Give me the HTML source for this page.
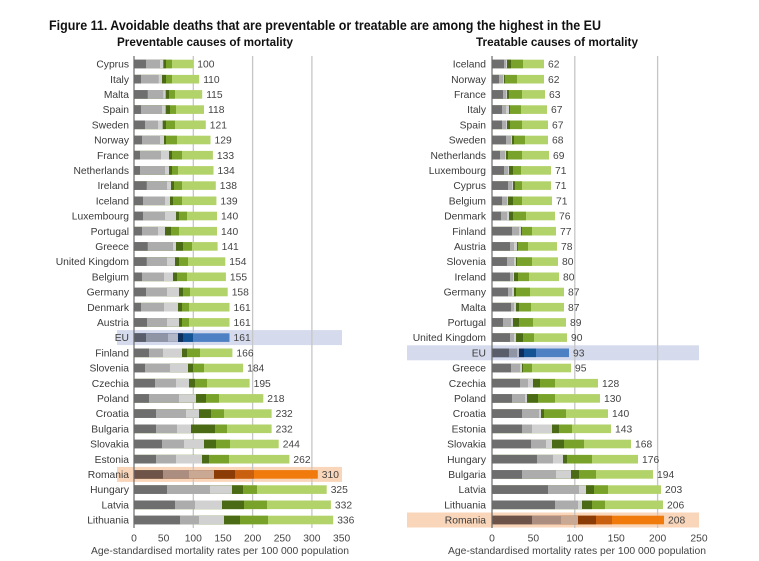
<!DOCTYPE html>
<html><head><meta charset="utf-8">
<style>
html,body{margin:0;padding:0;background:#fff;}
svg{display:block;font-family:"Liberation Sans",Arial,sans-serif;}
.lb{font-size:10.3px;fill:#3a3a3a;text-anchor:end;}
.v{font-size:10.3px;fill:#444;}
.tk{font-size:10.3px;fill:#444;text-anchor:middle;}
.a{fill:#6e6e6e}.b{fill:#acacac}.c{fill:#d1d1d1}.d{fill:#4b6a15}.e{fill:#78a22a}.f{fill:#b2d26a}
.ea{fill:#5a5e6b}.eb{fill:#9095a5}.ec{fill:#b2b7c8}.ed{fill:#0e2e5c}.ee{fill:#145495}.ef{fill:#4e80c4}
.ra{fill:#6e5448}.rb{fill:#ab8e80}.rc{fill:#c9a894}.rd{fill:#8a3b06}.re{fill:#c9600f}.rf{fill:#f07a0c}
</style></head><body>
<svg width="759" height="561" viewBox="0 0 759 561" xmlns="http://www.w3.org/2000/svg">
<rect width="759" height="561" fill="#fff"/>
<text x="49" y="30" font-size="13.5" font-weight="bold" fill="#111" textLength="552" lengthAdjust="spacingAndGlyphs">Figure 11. Avoidable deaths that are preventable or treatable are among the highest in the EU</text>
<text x="117" y="46" font-size="11.5" font-weight="bold" fill="#111" textLength="176" lengthAdjust="spacingAndGlyphs">Preventable causes of mortality</text>
<text x="476" y="46" font-size="11.5" font-weight="bold" fill="#111" textLength="162" lengthAdjust="spacingAndGlyphs">Treatable causes of mortality</text>

<!-- highlight bands -->
<rect x="117" y="330.1" width="225" height="15" fill="#d5dbec"/>
<rect x="117" y="466.9" width="225" height="15" fill="#f9d6ba"/>
<rect x="407" y="345.3" width="292" height="15" fill="#d5dbec"/>
<rect x="407" y="512.5" width="292" height="15" fill="#f9d6ba"/>

<!-- gridlines -->
<g stroke="#c6c6c6" stroke-width="1.3">
<line x1="193.3" y1="56" x2="193.3" y2="528"/>
<line x1="252.6" y1="56" x2="252.6" y2="528"/>
<line x1="311.9" y1="56" x2="311.9" y2="528"/>
<line x1="574.8" y1="56" x2="574.8" y2="528"/>
<line x1="657.6" y1="56" x2="657.6" y2="528"/>
</g>

<!-- LEFT CHART -->
<g transform="translate(0,64)"><text x="129" y="3.6" class="lb">Cyprus</text><g transform="translate(134,0)"><rect class="f" y="-4.3" height="8.6" width="59.3"/><rect class="e" y="-4.3" height="8.6" width="38"/><rect class="d" y="-4.3" height="8.6" width="32"/><rect class="c" y="-4.3" height="8.6" width="29.3"/><rect class="b" y="-4.3" height="8.6" width="26"/><rect class="a" y="-4.3" height="8.6" width="12"/></g><text x="197.3" y="3.6" class="v">100</text></g>
<g transform="translate(0,79.2)"><text x="129" y="3.6" class="lb">Italy</text><g transform="translate(134,0)"><rect class="f" y="-4.3" height="8.6" width="65.2"/><rect class="e" y="-4.3" height="8.6" width="38"/><rect class="d" y="-4.3" height="8.6" width="32"/><rect class="c" y="-4.3" height="8.6" width="28"/><rect class="b" y="-4.3" height="8.6" width="24.7"/><rect class="a" y="-4.3" height="8.6" width="7"/></g><text x="203.2" y="3.6" class="v">110</text></g>
<g transform="translate(0,94.4)"><text x="129" y="3.6" class="lb">Malta</text><g transform="translate(134,0)"><rect class="f" y="-4.3" height="8.6" width="68.2"/><rect class="e" y="-4.3" height="8.6" width="41"/><rect class="d" y="-4.3" height="8.6" width="35"/><rect class="c" y="-4.3" height="8.6" width="31.7"/><rect class="b" y="-4.3" height="8.6" width="29.3"/><rect class="a" y="-4.3" height="8.6" width="13.7"/></g><text x="206.2" y="3.6" class="v">115</text></g>
<g transform="translate(0,109.6)"><text x="129" y="3.6" class="lb">Spain</text><g transform="translate(134,0)"><rect class="f" y="-4.3" height="8.6" width="70"/><rect class="e" y="-4.3" height="8.6" width="42"/><rect class="d" y="-4.3" height="8.6" width="36"/><rect class="c" y="-4.3" height="8.6" width="31.7"/><rect class="b" y="-4.3" height="8.6" width="28"/><rect class="a" y="-4.3" height="8.6" width="7"/></g><text x="208" y="3.6" class="v">118</text></g>
<g transform="translate(0,124.8)"><text x="129" y="3.6" class="lb">Sweden</text><g transform="translate(134,0)"><rect class="f" y="-4.3" height="8.6" width="71.8"/><rect class="e" y="-4.3" height="8.6" width="41"/><rect class="d" y="-4.3" height="8.6" width="32"/><rect class="c" y="-4.3" height="8.6" width="28.7"/><rect class="b" y="-4.3" height="8.6" width="24"/><rect class="a" y="-4.3" height="8.6" width="11"/></g><text x="209.8" y="3.6" class="v">121</text></g>
<g transform="translate(0,140)"><text x="129" y="3.6" class="lb">Norway</text><g transform="translate(134,0)"><rect class="f" y="-4.3" height="8.6" width="76.5"/><rect class="e" y="-4.3" height="8.6" width="43"/><rect class="d" y="-4.3" height="8.6" width="32"/><rect class="c" y="-4.3" height="8.6" width="30"/><rect class="b" y="-4.3" height="8.6" width="26"/><rect class="a" y="-4.3" height="8.6" width="8"/></g><text x="214.5" y="3.6" class="v">129</text></g>
<g transform="translate(0,155.2)"><text x="129" y="3.6" class="lb">France</text><g transform="translate(134,0)"><rect class="f" y="-4.3" height="8.6" width="78.9"/><rect class="e" y="-4.3" height="8.6" width="48"/><rect class="d" y="-4.3" height="8.6" width="38"/><rect class="c" y="-4.3" height="8.6" width="35"/><rect class="b" y="-4.3" height="8.6" width="27"/><rect class="a" y="-4.3" height="8.6" width="6"/></g><text x="216.9" y="3.6" class="v">133</text></g>
<g transform="translate(0,170.4)"><text x="129" y="3.6" class="lb">Netherlands</text><g transform="translate(134,0)"><rect class="f" y="-4.3" height="8.6" width="79.5"/><rect class="e" y="-4.3" height="8.6" width="44"/><rect class="d" y="-4.3" height="8.6" width="38"/><rect class="c" y="-4.3" height="8.6" width="35"/><rect class="b" y="-4.3" height="8.6" width="31"/><rect class="a" y="-4.3" height="8.6" width="6"/></g><text x="217.5" y="3.6" class="v">134</text></g>
<g transform="translate(0,185.6)"><text x="129" y="3.6" class="lb">Ireland</text><g transform="translate(134,0)"><rect class="f" y="-4.3" height="8.6" width="81.8"/><rect class="e" y="-4.3" height="8.6" width="48"/><rect class="d" y="-4.3" height="8.6" width="40"/><rect class="c" y="-4.3" height="8.6" width="37"/><rect class="b" y="-4.3" height="8.6" width="33"/><rect class="a" y="-4.3" height="8.6" width="12.7"/></g><text x="219.8" y="3.6" class="v">138</text></g>
<g transform="translate(0,200.8)"><text x="129" y="3.6" class="lb">Iceland</text><g transform="translate(134,0)"><rect class="f" y="-4.3" height="8.6" width="82.4"/><rect class="e" y="-4.3" height="8.6" width="48"/><rect class="d" y="-4.3" height="8.6" width="39"/><rect class="c" y="-4.3" height="8.6" width="36"/><rect class="b" y="-4.3" height="8.6" width="31"/><rect class="a" y="-4.3" height="8.6" width="9"/></g><text x="220.4" y="3.6" class="v">139</text></g>
<g transform="translate(0,216)"><text x="129" y="3.6" class="lb">Luxembourg</text><g transform="translate(134,0)"><rect class="f" y="-4.3" height="8.6" width="83"/><rect class="e" y="-4.3" height="8.6" width="53"/><rect class="d" y="-4.3" height="8.6" width="45"/><rect class="c" y="-4.3" height="8.6" width="42"/><rect class="b" y="-4.3" height="8.6" width="31"/><rect class="a" y="-4.3" height="8.6" width="9"/></g><text x="221" y="3.6" class="v">140</text></g>
<g transform="translate(0,231.2)"><text x="129" y="3.6" class="lb">Portugal</text><g transform="translate(134,0)"><rect class="f" y="-4.3" height="8.6" width="83"/><rect class="e" y="-4.3" height="8.6" width="45"/><rect class="d" y="-4.3" height="8.6" width="37"/><rect class="c" y="-4.3" height="8.6" width="31"/><rect class="b" y="-4.3" height="8.6" width="24"/><rect class="a" y="-4.3" height="8.6" width="8"/></g><text x="221" y="3.6" class="v">140</text></g>
<g transform="translate(0,246.4)"><text x="129" y="3.6" class="lb">Greece</text><g transform="translate(134,0)"><rect class="f" y="-4.3" height="8.6" width="83.6"/><rect class="e" y="-4.3" height="8.6" width="58"/><rect class="d" y="-4.3" height="8.6" width="49"/><rect class="c" y="-4.3" height="8.6" width="42"/><rect class="b" y="-4.3" height="8.6" width="39"/><rect class="a" y="-4.3" height="8.6" width="13.7"/></g><text x="221.6" y="3.6" class="v">141</text></g>
<g transform="translate(0,261.6)"><text x="129" y="3.6" class="lb">United Kingdom</text><g transform="translate(134,0)"><rect class="f" y="-4.3" height="8.6" width="91.3"/><rect class="e" y="-4.3" height="8.6" width="54"/><rect class="d" y="-4.3" height="8.6" width="45"/><rect class="c" y="-4.3" height="8.6" width="41"/><rect class="b" y="-4.3" height="8.6" width="33"/><rect class="a" y="-4.3" height="8.6" width="12.7"/></g><text x="229.3" y="3.6" class="v">154</text></g>
<g transform="translate(0,276.8)"><text x="129" y="3.6" class="lb">Belgium</text><g transform="translate(134,0)"><rect class="f" y="-4.3" height="8.6" width="91.9"/><rect class="e" y="-4.3" height="8.6" width="53"/><rect class="d" y="-4.3" height="8.6" width="43"/><rect class="c" y="-4.3" height="8.6" width="39"/><rect class="b" y="-4.3" height="8.6" width="30"/><rect class="a" y="-4.3" height="8.6" width="8"/></g><text x="229.9" y="3.6" class="v">155</text></g>
<g transform="translate(0,292)"><text x="129" y="3.6" class="lb">Germany</text><g transform="translate(134,0)"><rect class="f" y="-4.3" height="8.6" width="93.7"/><rect class="e" y="-4.3" height="8.6" width="56"/><rect class="d" y="-4.3" height="8.6" width="49"/><rect class="c" y="-4.3" height="8.6" width="45"/><rect class="b" y="-4.3" height="8.6" width="33"/><rect class="a" y="-4.3" height="8.6" width="12"/></g><text x="231.7" y="3.6" class="v">158</text></g>
<g transform="translate(0,307.2)"><text x="129" y="3.6" class="lb">Denmark</text><g transform="translate(134,0)"><rect class="f" y="-4.3" height="8.6" width="95.5"/><rect class="e" y="-4.3" height="8.6" width="55"/><rect class="d" y="-4.3" height="8.6" width="48"/><rect class="c" y="-4.3" height="8.6" width="44"/><rect class="b" y="-4.3" height="8.6" width="30"/><rect class="a" y="-4.3" height="8.6" width="7"/></g><text x="233.5" y="3.6" class="v">161</text></g>
<g transform="translate(0,322.4)"><text x="129" y="3.6" class="lb">Austria</text><g transform="translate(134,0)"><rect class="f" y="-4.3" height="8.6" width="95.5"/><rect class="e" y="-4.3" height="8.6" width="55"/><rect class="d" y="-4.3" height="8.6" width="48"/><rect class="c" y="-4.3" height="8.6" width="45"/><rect class="b" y="-4.3" height="8.6" width="33"/><rect class="a" y="-4.3" height="8.6" width="13"/></g><text x="233.5" y="3.6" class="v">161</text></g>
<g transform="translate(0,337.6)"><text x="129" y="3.6" class="lb">EU</text><g transform="translate(134,0)"><rect class="ef" y="-4.3" height="8.6" width="95.5"/><rect class="ee" y="-4.3" height="8.6" width="59"/><rect class="ed" y="-4.3" height="8.6" width="49"/><rect class="ec" y="-4.3" height="8.6" width="44"/><rect class="eb" y="-4.3" height="8.6" width="34"/><rect class="ea" y="-4.3" height="8.6" width="12"/></g><text x="233.5" y="3.6" class="v">161</text></g>
<g transform="translate(0,352.8)"><text x="129" y="3.6" class="lb">Finland</text><g transform="translate(134,0)"><rect class="f" y="-4.3" height="8.6" width="98.4"/><rect class="e" y="-4.3" height="8.6" width="66"/><rect class="d" y="-4.3" height="8.6" width="53"/><rect class="c" y="-4.3" height="8.6" width="48"/><rect class="b" y="-4.3" height="8.6" width="29"/><rect class="a" y="-4.3" height="8.6" width="15"/></g><text x="236.4" y="3.6" class="v">166</text></g>
<g transform="translate(0,368)"><text x="129" y="3.6" class="lb">Slovenia</text><g transform="translate(134,0)"><rect class="f" y="-4.3" height="8.6" width="109.1"/><rect class="e" y="-4.3" height="8.6" width="70"/><rect class="d" y="-4.3" height="8.6" width="59"/><rect class="c" y="-4.3" height="8.6" width="54"/><rect class="b" y="-4.3" height="8.6" width="36"/><rect class="a" y="-4.3" height="8.6" width="11"/></g><text x="247.1" y="3.6" class="v">184</text></g>
<g transform="translate(0,383.2)"><text x="129" y="3.6" class="lb">Czechia</text><g transform="translate(134,0)"><rect class="f" y="-4.3" height="8.6" width="115.6"/><rect class="e" y="-4.3" height="8.6" width="73"/><rect class="d" y="-4.3" height="8.6" width="61"/><rect class="c" y="-4.3" height="8.6" width="55"/><rect class="b" y="-4.3" height="8.6" width="42"/><rect class="a" y="-4.3" height="8.6" width="21"/></g><text x="253.6" y="3.6" class="v">195</text></g>
<g transform="translate(0,398.4)"><text x="129" y="3.6" class="lb">Poland</text><g transform="translate(134,0)"><rect class="f" y="-4.3" height="8.6" width="129.3"/><rect class="e" y="-4.3" height="8.6" width="85"/><rect class="d" y="-4.3" height="8.6" width="72"/><rect class="c" y="-4.3" height="8.6" width="62"/><rect class="b" y="-4.3" height="8.6" width="45"/><rect class="a" y="-4.3" height="8.6" width="15"/></g><text x="267.3" y="3.6" class="v">218</text></g>
<g transform="translate(0,413.6)"><text x="129" y="3.6" class="lb">Croatia</text><g transform="translate(134,0)"><rect class="f" y="-4.3" height="8.6" width="137.6"/><rect class="e" y="-4.3" height="8.6" width="90"/><rect class="d" y="-4.3" height="8.6" width="77"/><rect class="c" y="-4.3" height="8.6" width="65"/><rect class="b" y="-4.3" height="8.6" width="52"/><rect class="a" y="-4.3" height="8.6" width="22"/></g><text x="275.6" y="3.6" class="v">232</text></g>
<g transform="translate(0,428.8)"><text x="129" y="3.6" class="lb">Bulgaria</text><g transform="translate(134,0)"><rect class="f" y="-4.3" height="8.6" width="137.6"/><rect class="e" y="-4.3" height="8.6" width="93"/><rect class="d" y="-4.3" height="8.6" width="81"/><rect class="c" y="-4.3" height="8.6" width="57"/><rect class="b" y="-4.3" height="8.6" width="43"/><rect class="a" y="-4.3" height="8.6" width="22"/></g><text x="275.6" y="3.6" class="v">232</text></g>
<g transform="translate(0,444)"><text x="129" y="3.6" class="lb">Slovakia</text><g transform="translate(134,0)"><rect class="f" y="-4.3" height="8.6" width="144.7"/><rect class="e" y="-4.3" height="8.6" width="96"/><rect class="d" y="-4.3" height="8.6" width="82"/><rect class="c" y="-4.3" height="8.6" width="70"/><rect class="b" y="-4.3" height="8.6" width="50"/><rect class="a" y="-4.3" height="8.6" width="28"/></g><text x="282.7" y="3.6" class="v">244</text></g>
<g transform="translate(0,459.2)"><text x="129" y="3.6" class="lb">Estonia</text><g transform="translate(134,0)"><rect class="f" y="-4.3" height="8.6" width="155.4"/><rect class="e" y="-4.3" height="8.6" width="95"/><rect class="d" y="-4.3" height="8.6" width="75"/><rect class="c" y="-4.3" height="8.6" width="68"/><rect class="b" y="-4.3" height="8.6" width="42"/><rect class="a" y="-4.3" height="8.6" width="22"/></g><text x="293.4" y="3.6" class="v">262</text></g>
<g transform="translate(0,474.4)"><text x="129" y="3.6" class="lb">Romania</text><g transform="translate(134,0)"><rect class="rf" y="-4.3" height="8.6" width="183.8"/><rect class="re" y="-4.3" height="8.6" width="120"/><rect class="rd" y="-4.3" height="8.6" width="101"/><rect class="rc" y="-4.3" height="8.6" width="80"/><rect class="rb" y="-4.3" height="8.6" width="55"/><rect class="ra" y="-4.3" height="8.6" width="29"/></g><text x="321.8" y="3.6" class="v">310</text></g>
<g transform="translate(0,489.6)"><text x="129" y="3.6" class="lb">Hungary</text><g transform="translate(134,0)"><rect class="f" y="-4.3" height="8.6" width="192.7"/><rect class="e" y="-4.3" height="8.6" width="123"/><rect class="d" y="-4.3" height="8.6" width="109"/><rect class="c" y="-4.3" height="8.6" width="98"/><rect class="b" y="-4.3" height="8.6" width="76"/><rect class="a" y="-4.3" height="8.6" width="33"/></g><text x="330.7" y="3.6" class="v">325</text></g>
<g transform="translate(0,504.8)"><text x="129" y="3.6" class="lb">Latvia</text><g transform="translate(134,0)"><rect class="f" y="-4.3" height="8.6" width="196.9"/><rect class="e" y="-4.3" height="8.6" width="133"/><rect class="d" y="-4.3" height="8.6" width="110"/><rect class="c" y="-4.3" height="8.6" width="88"/><rect class="b" y="-4.3" height="8.6" width="61"/><rect class="a" y="-4.3" height="8.6" width="41"/></g><text x="334.9" y="3.6" class="v">332</text></g>
<g transform="translate(0,520)"><text x="129" y="3.6" class="lb">Lithuania</text><g transform="translate(134,0)"><rect class="f" y="-4.3" height="8.6" width="199.2"/><rect class="e" y="-4.3" height="8.6" width="134"/><rect class="d" y="-4.3" height="8.6" width="106"/><rect class="c" y="-4.3" height="8.6" width="90"/><rect class="b" y="-4.3" height="8.6" width="65"/><rect class="a" y="-4.3" height="8.6" width="46"/></g><text x="337.2" y="3.6" class="v">336</text></g>

<!-- RIGHT CHART -->
<g transform="translate(0,64)"><text x="486" y="3.6" class="lb">Iceland</text><g transform="translate(492,0)"><rect class="f" y="-4.3" height="8.6" width="52"/><rect class="e" y="-4.3" height="8.6" width="31"/><rect class="d" y="-4.3" height="8.6" width="19"/><rect class="c" y="-4.3" height="8.6" width="15"/><rect class="b" y="-4.3" height="8.6" width="14"/><rect class="a" y="-4.3" height="8.6" width="12"/></g><text x="548" y="3.6" class="v">62</text></g>
<g transform="translate(0,79.2)"><text x="486" y="3.6" class="lb">Norway</text><g transform="translate(492,0)"><rect class="f" y="-4.3" height="8.6" width="52"/><rect class="e" y="-4.3" height="8.6" width="25"/><rect class="d" y="-4.3" height="8.6" width="13"/><rect class="c" y="-4.3" height="8.6" width="12"/><rect class="b" y="-4.3" height="8.6" width="11"/><rect class="a" y="-4.3" height="8.6" width="7"/></g><text x="548" y="3.6" class="v">62</text></g>
<g transform="translate(0,94.4)"><text x="486" y="3.6" class="lb">France</text><g transform="translate(492,0)"><rect class="f" y="-4.3" height="8.6" width="53"/><rect class="e" y="-4.3" height="8.6" width="30"/><rect class="d" y="-4.3" height="8.6" width="17"/><rect class="c" y="-4.3" height="8.6" width="15"/><rect class="b" y="-4.3" height="8.6" width="14"/><rect class="a" y="-4.3" height="8.6" width="11"/></g><text x="549" y="3.6" class="v">63</text></g>
<g transform="translate(0,109.6)"><text x="486" y="3.6" class="lb">Italy</text><g transform="translate(492,0)"><rect class="f" y="-4.3" height="8.6" width="55"/><rect class="e" y="-4.3" height="8.6" width="29"/><rect class="d" y="-4.3" height="8.6" width="18"/><rect class="c" y="-4.3" height="8.6" width="17"/><rect class="b" y="-4.3" height="8.6" width="14"/><rect class="a" y="-4.3" height="8.6" width="10"/></g><text x="551" y="3.6" class="v">67</text></g>
<g transform="translate(0,124.8)"><text x="486" y="3.6" class="lb">Spain</text><g transform="translate(492,0)"><rect class="f" y="-4.3" height="8.6" width="56"/><rect class="e" y="-4.3" height="8.6" width="30"/><rect class="d" y="-4.3" height="8.6" width="18"/><rect class="c" y="-4.3" height="8.6" width="15"/><rect class="b" y="-4.3" height="8.6" width="14"/><rect class="a" y="-4.3" height="8.6" width="10"/></g><text x="552" y="3.6" class="v">67</text></g>
<g transform="translate(0,140)"><text x="486" y="3.6" class="lb">Sweden</text><g transform="translate(492,0)"><rect class="f" y="-4.3" height="8.6" width="56"/><rect class="e" y="-4.3" height="8.6" width="33"/><rect class="d" y="-4.3" height="8.6" width="22"/><rect class="c" y="-4.3" height="8.6" width="20"/><rect class="b" y="-4.3" height="8.6" width="19"/><rect class="a" y="-4.3" height="8.6" width="14"/></g><text x="552" y="3.6" class="v">68</text></g>
<g transform="translate(0,155.2)"><text x="486" y="3.6" class="lb">Netherlands</text><g transform="translate(492,0)"><rect class="f" y="-4.3" height="8.6" width="57"/><rect class="e" y="-4.3" height="8.6" width="30"/><rect class="d" y="-4.3" height="8.6" width="16"/><rect class="c" y="-4.3" height="8.6" width="14"/><rect class="b" y="-4.3" height="8.6" width="13"/><rect class="a" y="-4.3" height="8.6" width="8"/></g><text x="553" y="3.6" class="v">69</text></g>
<g transform="translate(0,170.4)"><text x="486" y="3.6" class="lb">Luxembourg</text><g transform="translate(492,0)"><rect class="f" y="-4.3" height="8.6" width="59"/><rect class="e" y="-4.3" height="8.6" width="29"/><rect class="d" y="-4.3" height="8.6" width="21"/><rect class="c" y="-4.3" height="8.6" width="17"/><rect class="b" y="-4.3" height="8.6" width="16"/><rect class="a" y="-4.3" height="8.6" width="12"/></g><text x="555" y="3.6" class="v">71</text></g>
<g transform="translate(0,185.6)"><text x="486" y="3.6" class="lb">Cyprus</text><g transform="translate(492,0)"><rect class="f" y="-4.3" height="8.6" width="59"/><rect class="e" y="-4.3" height="8.6" width="30"/><rect class="d" y="-4.3" height="8.6" width="23"/><rect class="c" y="-4.3" height="8.6" width="21"/><rect class="b" y="-4.3" height="8.6" width="20"/><rect class="a" y="-4.3" height="8.6" width="16"/></g><text x="555" y="3.6" class="v">71</text></g>
<g transform="translate(0,200.8)"><text x="486" y="3.6" class="lb">Belgium</text><g transform="translate(492,0)"><rect class="f" y="-4.3" height="8.6" width="60"/><rect class="e" y="-4.3" height="8.6" width="30"/><rect class="d" y="-4.3" height="8.6" width="21"/><rect class="c" y="-4.3" height="8.6" width="16"/><rect class="b" y="-4.3" height="8.6" width="15"/><rect class="a" y="-4.3" height="8.6" width="10"/></g><text x="556" y="3.6" class="v">71</text></g>
<g transform="translate(0,216)"><text x="486" y="3.6" class="lb">Denmark</text><g transform="translate(492,0)"><rect class="f" y="-4.3" height="8.6" width="63"/><rect class="e" y="-4.3" height="8.6" width="34"/><rect class="d" y="-4.3" height="8.6" width="21"/><rect class="c" y="-4.3" height="8.6" width="17"/><rect class="b" y="-4.3" height="8.6" width="15"/><rect class="a" y="-4.3" height="8.6" width="9"/></g><text x="559" y="3.6" class="v">76</text></g>
<g transform="translate(0,231.2)"><text x="486" y="3.6" class="lb">Finland</text><g transform="translate(492,0)"><rect class="f" y="-4.3" height="8.6" width="64"/><rect class="e" y="-4.3" height="8.6" width="40"/><rect class="d" y="-4.3" height="8.6" width="30"/><rect class="c" y="-4.3" height="8.6" width="29"/><rect class="b" y="-4.3" height="8.6" width="27"/><rect class="a" y="-4.3" height="8.6" width="20"/></g><text x="560" y="3.6" class="v">77</text></g>
<g transform="translate(0,246.4)"><text x="486" y="3.6" class="lb">Austria</text><g transform="translate(492,0)"><rect class="f" y="-4.3" height="8.6" width="65"/><rect class="e" y="-4.3" height="8.6" width="36"/><rect class="d" y="-4.3" height="8.6" width="26"/><rect class="c" y="-4.3" height="8.6" width="25"/><rect class="b" y="-4.3" height="8.6" width="22"/><rect class="a" y="-4.3" height="8.6" width="18"/></g><text x="561" y="3.6" class="v">78</text></g>
<g transform="translate(0,261.6)"><text x="486" y="3.6" class="lb">Slovenia</text><g transform="translate(492,0)"><rect class="f" y="-4.3" height="8.6" width="66"/><rect class="e" y="-4.3" height="8.6" width="40"/><rect class="d" y="-4.3" height="8.6" width="25"/><rect class="c" y="-4.3" height="8.6" width="24"/><rect class="b" y="-4.3" height="8.6" width="22"/><rect class="a" y="-4.3" height="8.6" width="15"/></g><text x="562" y="3.6" class="v">80</text></g>
<g transform="translate(0,276.8)"><text x="486" y="3.6" class="lb">Ireland</text><g transform="translate(492,0)"><rect class="f" y="-4.3" height="8.6" width="67"/><rect class="e" y="-4.3" height="8.6" width="37"/><rect class="d" y="-4.3" height="8.6" width="26"/><rect class="c" y="-4.3" height="8.6" width="22"/><rect class="b" y="-4.3" height="8.6" width="21"/><rect class="a" y="-4.3" height="8.6" width="18"/></g><text x="563" y="3.6" class="v">80</text></g>
<g transform="translate(0,292)"><text x="486" y="3.6" class="lb">Germany</text><g transform="translate(492,0)"><rect class="f" y="-4.3" height="8.6" width="72"/><rect class="e" y="-4.3" height="8.6" width="38"/><rect class="d" y="-4.3" height="8.6" width="24"/><rect class="c" y="-4.3" height="8.6" width="22"/><rect class="b" y="-4.3" height="8.6" width="20"/><rect class="a" y="-4.3" height="8.6" width="16"/></g><text x="568" y="3.6" class="v">87</text></g>
<g transform="translate(0,307.2)"><text x="486" y="3.6" class="lb">Malta</text><g transform="translate(492,0)"><rect class="f" y="-4.3" height="8.6" width="72"/><rect class="e" y="-4.3" height="8.6" width="39"/><rect class="d" y="-4.3" height="8.6" width="27"/><rect class="c" y="-4.3" height="8.6" width="24"/><rect class="b" y="-4.3" height="8.6" width="22"/><rect class="a" y="-4.3" height="8.6" width="19"/></g><text x="568" y="3.6" class="v">87</text></g>
<g transform="translate(0,322.4)"><text x="486" y="3.6" class="lb">Portugal</text><g transform="translate(492,0)"><rect class="f" y="-4.3" height="8.6" width="74"/><rect class="e" y="-4.3" height="8.6" width="41"/><rect class="d" y="-4.3" height="8.6" width="27"/><rect class="c" y="-4.3" height="8.6" width="21"/><rect class="b" y="-4.3" height="8.6" width="19"/><rect class="a" y="-4.3" height="8.6" width="11"/></g><text x="570" y="3.6" class="v">89</text></g>
<g transform="translate(0,337.6)"><text x="486" y="3.6" class="lb">United Kingdom</text><g transform="translate(492,0)"><rect class="f" y="-4.3" height="8.6" width="75"/><rect class="e" y="-4.3" height="8.6" width="42"/><rect class="d" y="-4.3" height="8.6" width="31"/><rect class="c" y="-4.3" height="8.6" width="24"/><rect class="b" y="-4.3" height="8.6" width="22"/><rect class="a" y="-4.3" height="8.6" width="18"/></g><text x="571" y="3.6" class="v">90</text></g>
<g transform="translate(0,352.8)"><text x="486" y="3.6" class="lb">EU</text><g transform="translate(492,0)"><rect class="ef" y="-4.3" height="8.6" width="77"/><rect class="ee" y="-4.3" height="8.6" width="44"/><rect class="ed" y="-4.3" height="8.6" width="32"/><rect class="ec" y="-4.3" height="8.6" width="27"/><rect class="eb" y="-4.3" height="8.6" width="25"/><rect class="ea" y="-4.3" height="8.6" width="17"/></g><text x="573" y="3.6" class="v">93</text></g>
<g transform="translate(0,368)"><text x="486" y="3.6" class="lb">Greece</text><g transform="translate(492,0)"><rect class="f" y="-4.3" height="8.6" width="79"/><rect class="e" y="-4.3" height="8.6" width="40"/><rect class="d" y="-4.3" height="8.6" width="31"/><rect class="c" y="-4.3" height="8.6" width="30"/><rect class="b" y="-4.3" height="8.6" width="28"/><rect class="a" y="-4.3" height="8.6" width="19"/></g><text x="575" y="3.6" class="v">95</text></g>
<g transform="translate(0,383.2)"><text x="486" y="3.6" class="lb">Czechia</text><g transform="translate(492,0)"><rect class="f" y="-4.3" height="8.6" width="106"/><rect class="e" y="-4.3" height="8.6" width="63"/><rect class="d" y="-4.3" height="8.6" width="48"/><rect class="c" y="-4.3" height="8.6" width="41"/><rect class="b" y="-4.3" height="8.6" width="36"/><rect class="a" y="-4.3" height="8.6" width="28"/></g><text x="602" y="3.6" class="v">128</text></g>
<g transform="translate(0,398.4)"><text x="486" y="3.6" class="lb">Poland</text><g transform="translate(492,0)"><rect class="f" y="-4.3" height="8.6" width="108"/><rect class="e" y="-4.3" height="8.6" width="63"/><rect class="d" y="-4.3" height="8.6" width="46"/><rect class="c" y="-4.3" height="8.6" width="35"/><rect class="b" y="-4.3" height="8.6" width="33"/><rect class="a" y="-4.3" height="8.6" width="20"/></g><text x="604" y="3.6" class="v">130</text></g>
<g transform="translate(0,413.6)"><text x="486" y="3.6" class="lb">Croatia</text><g transform="translate(492,0)"><rect class="f" y="-4.3" height="8.6" width="116"/><rect class="e" y="-4.3" height="8.6" width="74"/><rect class="d" y="-4.3" height="8.6" width="52"/><rect class="c" y="-4.3" height="8.6" width="49"/><rect class="b" y="-4.3" height="8.6" width="47"/><rect class="a" y="-4.3" height="8.6" width="30"/></g><text x="612" y="3.6" class="v">140</text></g>
<g transform="translate(0,428.8)"><text x="486" y="3.6" class="lb">Estonia</text><g transform="translate(492,0)"><rect class="f" y="-4.3" height="8.6" width="119"/><rect class="e" y="-4.3" height="8.6" width="80"/><rect class="d" y="-4.3" height="8.6" width="67"/><rect class="c" y="-4.3" height="8.6" width="60"/><rect class="b" y="-4.3" height="8.6" width="40"/><rect class="a" y="-4.3" height="8.6" width="30"/></g><text x="615" y="3.6" class="v">143</text></g>
<g transform="translate(0,444)"><text x="486" y="3.6" class="lb">Slovakia</text><g transform="translate(492,0)"><rect class="f" y="-4.3" height="8.6" width="139"/><rect class="e" y="-4.3" height="8.6" width="92"/><rect class="d" y="-4.3" height="8.6" width="72"/><rect class="c" y="-4.3" height="8.6" width="60"/><rect class="b" y="-4.3" height="8.6" width="54"/><rect class="a" y="-4.3" height="8.6" width="39"/></g><text x="635" y="3.6" class="v">168</text></g>
<g transform="translate(0,459.2)"><text x="486" y="3.6" class="lb">Hungary</text><g transform="translate(492,0)"><rect class="f" y="-4.3" height="8.6" width="146"/><rect class="e" y="-4.3" height="8.6" width="100"/><rect class="d" y="-4.3" height="8.6" width="75"/><rect class="c" y="-4.3" height="8.6" width="71"/><rect class="b" y="-4.3" height="8.6" width="61"/><rect class="a" y="-4.3" height="8.6" width="45"/></g><text x="642" y="3.6" class="v">176</text></g>
<g transform="translate(0,474.4)"><text x="486" y="3.6" class="lb">Bulgaria</text><g transform="translate(492,0)"><rect class="f" y="-4.3" height="8.6" width="161"/><rect class="e" y="-4.3" height="8.6" width="104"/><rect class="d" y="-4.3" height="8.6" width="87"/><rect class="c" y="-4.3" height="8.6" width="79"/><rect class="b" y="-4.3" height="8.6" width="64"/><rect class="a" y="-4.3" height="8.6" width="30"/></g><text x="657" y="3.6" class="v">194</text></g>
<g transform="translate(0,489.6)"><text x="486" y="3.6" class="lb">Latvia</text><g transform="translate(492,0)"><rect class="f" y="-4.3" height="8.6" width="169"/><rect class="e" y="-4.3" height="8.6" width="116"/><rect class="d" y="-4.3" height="8.6" width="102"/><rect class="c" y="-4.3" height="8.6" width="94"/><rect class="b" y="-4.3" height="8.6" width="87"/><rect class="a" y="-4.3" height="8.6" width="56"/></g><text x="665" y="3.6" class="v">203</text></g>
<g transform="translate(0,504.8)"><text x="486" y="3.6" class="lb">Lithuania</text><g transform="translate(492,0)"><rect class="f" y="-4.3" height="8.6" width="171"/><rect class="e" y="-4.3" height="8.6" width="113"/><rect class="d" y="-4.3" height="8.6" width="100"/><rect class="c" y="-4.3" height="8.6" width="90"/><rect class="b" y="-4.3" height="8.6" width="86"/><rect class="a" y="-4.3" height="8.6" width="63"/></g><text x="667" y="3.6" class="v">206</text></g>
<g transform="translate(0,520)"><text x="486" y="3.6" class="lb">Romania</text><g transform="translate(492,0)"><rect class="rf" y="-4.3" height="8.6" width="172"/><rect class="re" y="-4.3" height="8.6" width="120"/><rect class="rd" y="-4.3" height="8.6" width="104"/><rect class="rc" y="-4.3" height="8.6" width="86"/><rect class="rb" y="-4.3" height="8.6" width="69"/><rect class="ra" y="-4.3" height="8.6" width="40"/></g><text x="668" y="3.6" class="v">208</text></g>

<!-- axes -->
<g stroke="#6a6a6a" stroke-width="1.2">
<line x1="134" y1="56" x2="134" y2="528"/>
<line x1="492" y1="56" x2="492" y2="528"/>
</g>

<!-- tick labels -->
<g class="tk">
<text x="134" y="541.5" class="tk">0</text>
<text x="163.6" y="541.5" class="tk">50</text>
<text x="193.3" y="541.5" class="tk">100</text>
<text x="223" y="541.5" class="tk">150</text>
<text x="252.6" y="541.5" class="tk">200</text>
<text x="282.3" y="541.5" class="tk">250</text>
<text x="311.9" y="541.5" class="tk">300</text>
<text x="341.6" y="541.5" class="tk">350</text>
<text x="492" y="541.5" class="tk">0</text>
<text x="533.4" y="541.5" class="tk">50</text>
<text x="574.8" y="541.5" class="tk">100</text>
<text x="616.2" y="541.5" class="tk">150</text>
<text x="657.6" y="541.5" class="tk">200</text>
<text x="699" y="541.5" class="tk">250</text>
</g>
<text x="91" y="554" font-size="10.3" fill="#444" textLength="258" lengthAdjust="spacingAndGlyphs">Age-standardised mortality rates per 100 000 population</text>
<text x="448" y="554" font-size="10.3" fill="#444" textLength="258" lengthAdjust="spacingAndGlyphs">Age-standardised mortality rates per 100 000 population</text>
</svg>
</body></html>
